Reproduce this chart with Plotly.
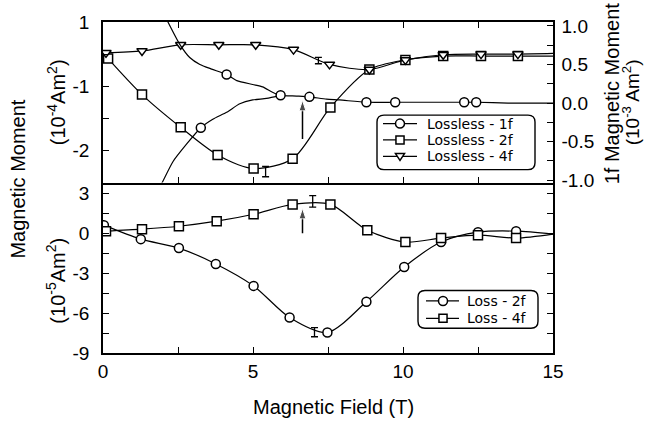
import plotly.graph_objects as go

# ---------------- data ----------------
# Top panel: lossless signals. 2f/4f on left axis (1e-4 Am^2), 1f on right axis (1e-3 Am^2)
lossless_2f_field = [0.17, 1.30, 2.59, 3.82, 5.02, 6.32, 7.58, 8.88, 10.08, 11.34, 12.60, 13.83]
lossless_2f_moment = [-0.57, -1.13, -1.64, -2.07, -2.28, -2.13, -1.33, -0.74, -0.59, -0.53, -0.53, -0.53]
lossless_2f_end = [15.0, -0.53]

lossless_4f_field = [0.10, 1.30, 2.59, 3.86, 5.09, 6.35, 7.55, 8.88, 10.08, 11.34, 12.60, 13.83]
lossless_4f_moment = [-0.48, -0.45, -0.355, -0.355, -0.355, -0.43, -0.66, -0.74, -0.59, -0.51, -0.50, -0.50]
lossless_4f_end = [15.0, -0.49]

# 1f: two hysteresis branches (lines) and the marked points
lossless_1f_down_field = [2.10, 2.56, 2.89, 3.23, 3.62, 4.12, 4.46, 4.99, 5.32, 5.65, 5.92, 6.45, 6.88,
                          7.45, 7.88, 8.78, 9.74, 10.90, 12.04, 12.44, 13.50, 15.00]
lossless_1f_down_moment = [1.10, 0.76, 0.59, 0.50, 0.44, 0.37, 0.29, 0.24, 0.21, 0.14, 0.10, 0.09, 0.08,
                           0.05, 0.04, 0.01, 0.01, 0.01, 0.01, 0.01, 0.00, 0.00]
lossless_1f_up_field = [1.88, 2.00, 2.33, 2.79, 3.26, 3.66, 4.12, 4.56, 4.99, 5.45, 5.92]
lossless_1f_up_moment = [-1.10, -1.01, -0.76, -0.53, -0.32, -0.21, -0.12, -0.01, 0.04, 0.06, 0.10]
lossless_1f_field = [3.26, 4.12, 5.92, 6.88, 8.78, 9.74, 12.04, 12.44]
lossless_1f_moment = [-0.32, 0.37, 0.10, 0.08, 0.01, 0.01, 0.01, 0.01]

# Bottom panel: loss signals (1e-5 Am^2)
loss_2f_field = [0.03, 1.26, 2.53, 3.76, 5.02, 6.22, 7.48, 8.78, 10.04, 11.27, 12.50, 13.77]
loss_2f_moment = [0.60, -0.45, -1.12, -2.31, -3.96, -6.34, -7.46, -5.15, -2.54, -0.67, 0.07, 0.15]
loss_2f_end = [15.0, -0.07]

loss_4f_field = [0.10, 1.30, 2.53, 3.79, 5.02, 6.32, 7.58, 8.81, 10.08, 11.27, 12.50, 13.77]
loss_4f_moment = [0.15, 0.30, 0.52, 0.90, 1.42, 2.16, 2.16, 0.22, -0.67, -0.37, -0.15, -0.37]
loss_4f_end = [15.0, -0.07]

# Error bars: (field, value, half-height)
err_lossless_2f = [5.42, -2.33, 0.08]
err_lossless_4f = [7.18, -0.60, 0.05]
err_loss_2f = [7.05, -7.44, 0.34]
err_loss_4f = [6.99, 2.39, 0.43]

# Arrows: (field, from, to)
arrow_top = [6.65, -1.82, -1.22]
arrow_bottom = [6.65, 0.0, 1.86]

# Tick labels
x_tickvals = [0, 5, 10, 15]
x_ticktext = ["0", "5", "10", "15"]
x_minor = [2.5, 7.5, 12.5]
top_left_tickvals = [0, -1, -2]
top_left_ticktext = ["1", "-1", "-2"]
top_left_minor = [-0.5, -1.5, -2.5]
top_right_tickvals = [1, 0.5, 0, -0.5, -1]
top_right_ticktext = ["1.0", "0.5", "0.0", "-0.5", "-1.0"]
top_right_minor = [0.75, 0.25, -0.25, -0.75]
bottom_tickvals = [3, 0, -3, -6, -9]
bottom_ticktext = ["3", "0", "-3", "-6", "-9"]
bottom_minor = [1.5, -1.5, -4.5, -7.5]

legend_top_labels = ["Lossless - 1f", "Lossless - 2f", "Lossless - 4f"]
legend_bottom_labels = ["Loss - 2f", "Loss - 4f"]

# ---------------- figure ----------------
FONT = "Liberation Sans, Arial, sans-serif"
LFONT = "DejaVu Sans, Liberation Sans, sans-serif"
W, H = 647, 422
L, R, T, B = 103, 94, 19, 69
PW, PH = W - L - R, H - T - B
SPLIT = 181  # pixel row of the panel boundary
d = (H - B - SPLIT) / PH


def PX(px):
    return (px - L) / PW


def PY(py):
    return (H - B - py) / PH


LW = 1.2
MLW = 1.5
MS = 9

fig = go.Figure()


def marker_series(x, y, end, symbol, xa, ya):
    fig.add_trace(go.Scatter(x=x + [end[0]], y=y + [end[1]], mode="lines",
                             line=dict(color="black", width=LW, shape="spline", smoothing=0.8),
                             xaxis=xa, yaxis=ya, showlegend=False, hoverinfo="skip"))
    fig.add_trace(go.Scatter(x=x, y=y, mode="markers",
                             marker=dict(symbol=symbol, size=MS, color="white",
                                         line=dict(color="black", width=MLW)),
                             xaxis=xa, yaxis=ya, showlegend=False))


def err_series(e, xa, ya):
    fig.add_trace(go.Scatter(x=[e[0]], y=[e[1]], mode="markers",
                             marker=dict(size=1, color="rgba(0,0,0,0)"),
                             error_y=dict(type="data", array=[e[2]], color="black",
                                          thickness=1.3, width=3.5),
                             xaxis=xa, yaxis=ya, showlegend=False, hoverinfo="skip"))


def arrow_series(a, xa, ya):
    fig.add_trace(go.Scatter(x=[a[0], a[0]], y=[a[1], a[2]], mode="lines+markers",
                             line=dict(color="black", width=1.5),
                             marker=dict(symbol="arrow", size=[0, 11], color="black",
                                         angleref="previous"),
                             xaxis=xa, yaxis=ya, showlegend=False, hoverinfo="skip"))


# 1f branches (right axis of top panel)
for fx, fy in [(lossless_1f_down_field, lossless_1f_down_moment),
               (lossless_1f_up_field, lossless_1f_up_moment)]:
    fig.add_trace(go.Scatter(x=fx, y=fy, mode="lines",
                             line=dict(color="black", width=LW, shape="spline", smoothing=0.6),
                             xaxis="x2", yaxis="y3", showlegend=False, hoverinfo="skip"))
fig.add_trace(go.Scatter(x=lossless_1f_field, y=lossless_1f_moment, mode="markers",
                         marker=dict(symbol="circle", size=MS, color="white",
                                     line=dict(color="black", width=MLW)),
                         xaxis="x2", yaxis="y3", showlegend=False))

marker_series(lossless_2f_field, lossless_2f_moment, lossless_2f_end, "square", "x2", "y2")
marker_series(lossless_4f_field, lossless_4f_moment, lossless_4f_end, "triangle-down", "x2", "y2")
err_series(err_lossless_2f, "x2", "y2")
err_series(err_lossless_4f, "x2", "y2")
arrow_series(arrow_top, "x2", "y2")

marker_series(loss_2f_field, loss_2f_moment, loss_2f_end, "circle", "x", "y")
marker_series(loss_4f_field, loss_4f_moment, loss_4f_end, "square", "x", "y")
err_series(err_loss_2f, "x", "y")
err_series(err_loss_4f, "x", "y")
arrow_series(arrow_bottom, "x", "y")

tickfont = dict(family=FONT, size=19, color="black")
axis_common = dict(showline=True, linecolor="black", linewidth=1.5, ticks="inside",
                   ticklen=6, tickwidth=1.2, tickcolor="black", showgrid=False,
                   zeroline=False, tickfont=tickfont, tickmode="array")


def minor(vals):
    return dict(ticks="inside", ticklen=6, tickwidth=1.2, tickcolor="black",
                tickmode="array", tickvals=vals, showgrid=False)


fig.update_layout(
    width=W, height=H,
    margin=dict(l=L, r=R, t=T, b=B, pad=0),
    paper_bgcolor="white", plot_bgcolor="white",
    font=dict(family=FONT, color="black"),
    showlegend=False,
    xaxis=dict(axis_common, range=[0, 15], domain=[0, 1], anchor="y", mirror=False,
               tickvals=x_tickvals, ticktext=x_ticktext, minor=minor(x_minor),
               ticklabelstandoff=0),
    yaxis=dict(axis_common, range=[-9, 3.8], domain=[0, d], anchor="x", mirror="ticks",
               tickvals=bottom_tickvals, ticktext=bottom_ticktext, minor=minor(bottom_minor),
               ticklabelstandoff=8),
    xaxis2=dict(axis_common, range=[0, 15], domain=[0, 1], anchor="y2", mirror="ticks",
                matches="x", tickvals=x_tickvals, showticklabels=False, minor=minor(x_minor)),
    yaxis2=dict(axis_common, range=[-2.5, 0], domain=[d, 1], anchor="x2", mirror=False,
                tickvals=top_left_tickvals, ticktext=top_left_ticktext,
                minor=minor(top_left_minor), ticklabelstandoff=8),
    yaxis3=dict(axis_common, range=[-1.03, 1.05], overlaying="y2", side="right", anchor="x2",
                tickvals=top_right_tickvals, ticktext=top_right_ticktext,
                minor=minor(top_right_minor), ticklabelstandoff=3),
)

ann = []
TF = dict(family=FONT, size=20, color="black")
ann.append(dict(text="Magnetic Field (T)", x=PX(333), y=PY(407), xref="paper", yref="paper",
                showarrow=False, font=TF, xanchor="center", yanchor="middle"))
ann.append(dict(text="Magnetic Moment", x=PX(18), y=PY(178), xref="paper", yref="paper",
                showarrow=False, font=TF, textangle=-90, xanchor="center", yanchor="middle"))
ann.append(dict(text="(10<sup>-4</sup>Am<sup>2</sup>)", x=PX(56), y=PY(100), xref="paper",
                yref="paper", showarrow=False, font=TF, textangle=-90,
                xanchor="center", yanchor="middle"))
ann.append(dict(text="(10<sup>-5</sup>Am<sup>2</sup>)", x=PX(56), y=PY(280), xref="paper",
                yref="paper", showarrow=False, font=TF, textangle=-90,
                xanchor="center", yanchor="middle"))
ann.append(dict(text="1f Magnetic Moment", x=PX(612), y=PY(91), xref="paper", yref="paper",
                showarrow=False, font=TF, textangle=-90, xanchor="center", yanchor="middle"))
ann.append(dict(text="(10<sup>-3</sup> Am<sup>2</sup>)", x=PX(631), y=PY(100), xref="paper",
                yref="paper", showarrow=False, font=dict(TF, size=19), textangle=-90,
                xanchor="center", yanchor="middle"))

# ---------------- hand-drawn legends ----------------
shapes = []
LF = dict(family=LFONT, size=14, color="black")


def rounded_box(x0, y0, x1, y1, r):
    p = (f"M {PX(x0 + r)},{PY(y0)} L {PX(x1 - r)},{PY(y0)} Q {PX(x1)},{PY(y0)} {PX(x1)},{PY(y0 + r)} "
         f"L {PX(x1)},{PY(y1 - r)} Q {PX(x1)},{PY(y1)} {PX(x1 - r)},{PY(y1)} "
         f"L {PX(x0 + r)},{PY(y1)} Q {PX(x0)},{PY(y1)} {PX(x0)},{PY(y1 - r)} "
         f"L {PX(x0)},{PY(y0 + r)} Q {PX(x0)},{PY(y0)} {PX(x0 + r)},{PY(y0)} Z")
    shapes.append(dict(type="path", path=p, xref="paper", yref="paper",
                       line=dict(color="black", width=1.4), fillcolor="white", layer="above"))


def legend_symbol(kind, cx, cy, x0, x1):
    shapes.append(dict(type="line", x0=PX(x0), x1=PX(x1), y0=PY(cy), y1=PY(cy),
                       xref="paper", yref="paper", line=dict(color="black", width=LW)))
    r = MS / 2
    st = dict(xref="paper", yref="paper", line=dict(color="black", width=MLW), fillcolor="white")
    if kind == "circle":
        shapes.append(dict(type="circle", x0=PX(cx - r), x1=PX(cx + r), y0=PY(cy + r), y1=PY(cy - r), **st))
    elif kind == "square":
        r2 = r * 0.9
        shapes.append(dict(type="rect", x0=PX(cx - r2), x1=PX(cx + r2), y0=PY(cy + r2), y1=PY(cy - r2), **st))
    else:
        p = f"M {PX(cx - r)},{PY(cy - r * 0.6)} L {PX(cx + r)},{PY(cy - r * 0.6)} L {PX(cx)},{PY(cy + r * 0.9)} Z"
        shapes.append(dict(type="path", path=p, **st))


rounded_box(377, 113, 535, 168, 7)
for lbl, kind, cy in zip(legend_top_labels, ["circle", "square", "triangle"], [121.5, 138, 154.5]):
    legend_symbol(kind, 400, cy, 383, 417)
    ann.append(dict(text=lbl, x=PX(426), y=PY(cy), xref="paper", yref="paper", showarrow=False,
                    font=LF, xanchor="left", yanchor="middle", borderpad=0))

rounded_box(418, 290, 538, 328, 7)
for lbl, kind, cy in zip(legend_bottom_labels, ["circle", "square"], [300.5, 318]):
    legend_symbol(kind, 443, cy, 426, 459)
    ann.append(dict(text=lbl, x=PX(466), y=PY(cy), xref="paper", yref="paper", showarrow=False,
                    font=LF, xanchor="left", yanchor="middle", borderpad=0))

fig.update_layout(annotations=ann, shapes=shapes)

fig.write_html("out.html")
